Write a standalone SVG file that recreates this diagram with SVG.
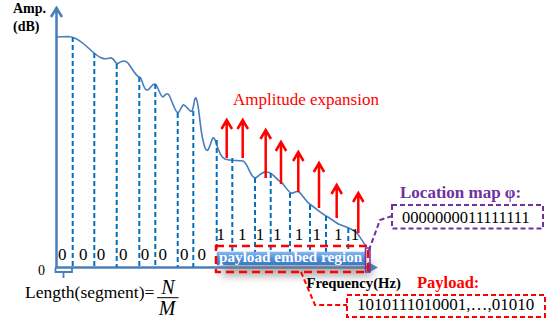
<svg xmlns="http://www.w3.org/2000/svg" width="550" height="323" viewBox="0 0 550 323" font-family="'Liberation Serif', 'Times New Roman', serif">
<style>
text{font-family:'Liberation Serif','Times New Roman',serif;fill:#000}
.b{font-weight:bold}
.ax{stroke:#4a7ebb;stroke-width:2.5;fill:none}
.cv{stroke:#4a7ebb;stroke-width:1.6;fill:none}
.dl{stroke:#0070c0;stroke-width:2;stroke-dasharray:5,3;fill:none}
.ra{stroke:#ff0000;stroke-width:2.5;fill:none}
.rd{stroke:#ff0000;stroke-width:2.5;stroke-dasharray:8,5;fill:none}
.pd{stroke:#7030a0;stroke-width:2;stroke-dasharray:5,3;fill:none}
.z{font-size:17px;text-anchor:middle}
</style>
<defs>
<linearGradient id="bg" x1="0" y1="0" x2="0" y2="1">
<stop offset="0" stop-color="#8ab8ee"/>
<stop offset="0.5" stop-color="#4f8fdc"/>
<stop offset="1" stop-color="#3a78c8"/>
</linearGradient>
<filter id="sh" x="-20%" y="-50%" width="140%" height="250%">
<feGaussianBlur stdDeviation="4"/>
</filter>
</defs>
<rect width="550" height="323" fill="#fff"/>

<g id="axes">
<path class="ax" d="M56.5,268 V9 M51,17 L56.5,8 L62,17"/>
<path class="ax" d="M55,267.5 H370"/>
<path d="M368,262 L378,267.5 L368,273 Z" fill="#4a7ebb"/>
<path d="M55.5,268 V272 H72 V268 M63.5,272 V278" stroke="#4a7ebb" stroke-width="1.8" fill="none"/>
<text class="b" x="13" y="13" font-size="14">Amp.</text>
<text class="b" x="13" y="31" font-size="14">(dB)</text>
<text x="38" y="275" font-size="14">0</text>
</g>

<g id="spectrum">
<path class="cv" d="M56,37 L68,36.5 C78,37 86,46 94,53 C100,58 104,60 110,58 C113,57 115,62 117,64 C120,62 124,59 128,63 C133,70 136,76 139,77 C142,76 143,90 147,90 C150,90 152,83 155,84 C158,85 160,97 163,97 C165,95 167,92 169,95 C173,103 175,112 178,113 C180,112 182,104 184,105 C187,106 190,113 192,111 C194,108 194,97 196,98 C199,102 200,130 203,140 C204,146 206,152 208,150 C211,145 212,136 214,138 C217,142 218,156 225,159 C230,161 238,160 243,161 C248,163 250,177 255,178 C258,178 261,171 267,172 C274,173 276,180 281,182 C285,185 287,191 291,193 C294,194 296,190 299,192 C303,195 306,202 311,205 C318,210 322,214 328,217 C333,220 337,224 341,225 C347,227 352,229 356,232 C360,236 362,241 366,246"/>
</g>

<g id="segments">
<path class="dl" d="M72.7,37 V267 M94.3,53 V267 M116.7,64 V267 M139.3,77 V267 M155.3,84 V267 M177.7,113 V267 M193.3,111 V267 M216.7,140 V252 M232.3,158 V252 M255,178 V252 M270.7,173 V252 M290,193 V252 M310,205 V252 M326,216 V252 M348.3,228 V252"/>
<text class="z" x="62.3" y="260">0</text>
<text class="z" x="83.3" y="260">0</text>
<text class="z" x="101" y="260">0</text>
<text class="z" x="123.3" y="260">0</text>
<text class="z" x="145" y="260">0</text>
<text class="z" x="162.7" y="260">0</text>
<text class="z" x="184.3" y="260">0</text>
<text class="z" x="201.7" y="260">0</text>
<text class="z" x="220.7" y="240">1</text>
<text class="z" x="242.3" y="240">1</text>
<text class="z" x="260" y="240">1</text>
<text class="z" x="277.3" y="240">1</text>
<text class="z" x="299" y="240">1</text>
<text class="z" x="316.7" y="240">1</text>
<text class="z" x="338.3" y="240">1</text>
<text class="z" x="355" y="240">1</text>
</g>

<g id="expansion">
<text x="233" y="105" font-size="17" style="fill:#ff0000">Amplitude expansion</text>
<path class="ra" d="M226.7,158 V121 M221.5,129 L226.7,120 L232,129"/>
<path class="ra" d="M242.7,158 V121 M237.5,129 L242.7,120 L248,129"/>
<path class="ra" d="M265.7,178 V131 M260.5,139 L265.7,130 L271,139"/>
<path class="ra" d="M281,184 V143 M275.8,151 L281,142 L286.2,151"/>
<path class="ra" d="M298.3,192 V153 M293.1,161 L298.3,152 L303.5,161"/>
<path class="ra" d="M319,208 V164 M313.8,172 L319,163 L324.2,172"/>
<path class="ra" d="M336.7,218 V186 M331.5,194 L336.7,185 L341.9,194"/>
<path class="ra" d="M358.3,233 V194 M353.1,202 L358.3,193 L363.5,202"/>
</g>

<g id="embed-region">
<rect x="222" y="262" width="150" height="14" fill="#777" opacity="0.6" filter="url(#sh)"/>
<rect x="216.7" y="251.7" width="148.3" height="13.5" fill="url(#bg)"/>
<text class="b" x="219" y="262" font-size="15.2" style="fill:#fff">payload embed region</text>
<rect class="rd" x="216" y="246" width="152" height="26"/>
</g>

<g id="length-label">
<text x="25" y="298" font-size="17.5">Length(segment)=</text>
<text x="168" y="294" font-size="20" font-style="italic" text-anchor="middle">N</text>
<line x1="157" y1="297.7" x2="178.5" y2="297.7" stroke="#000" stroke-width="1"/>
<text x="167" y="315" font-size="20" font-style="italic" text-anchor="middle">M</text>
</g>

<g id="frequency-label">
<text class="b" x="306.5" y="288" font-size="14.7">Frequency(Hz)</text>
</g>

<g id="location-map">
<text class="b" x="400" y="198" font-size="17" style="fill:#7030a0">Location map φ:</text>
<rect class="pd" x="392" y="205" width="151" height="23.5"/>
<text x="402" y="223" font-size="16.5">0000000011111111</text>
</g>

<g id="payload">
<text class="b" x="417" y="288" font-size="16.5" style="fill:#ff0000">Payload:</text>
<rect x="347" y="295" width="198" height="22" stroke="#ff0000" stroke-width="2" stroke-dasharray="5,3" fill="none"/>
<text x="357" y="310" font-size="17">1010111010001,…,01010</text>
</g>

<g id="connectors">
<path class="pd" d="M392,216 L380,220 L369,250"/>
<rect x="365.5" y="248" width="4.5" height="24" stroke="#7030a0" stroke-width="1.5" fill="none"/>
<path d="M301,272 L315,305 L347,305" stroke="#ff0000" stroke-width="2" stroke-dasharray="5,3" fill="none"/>
</g>
</svg>
